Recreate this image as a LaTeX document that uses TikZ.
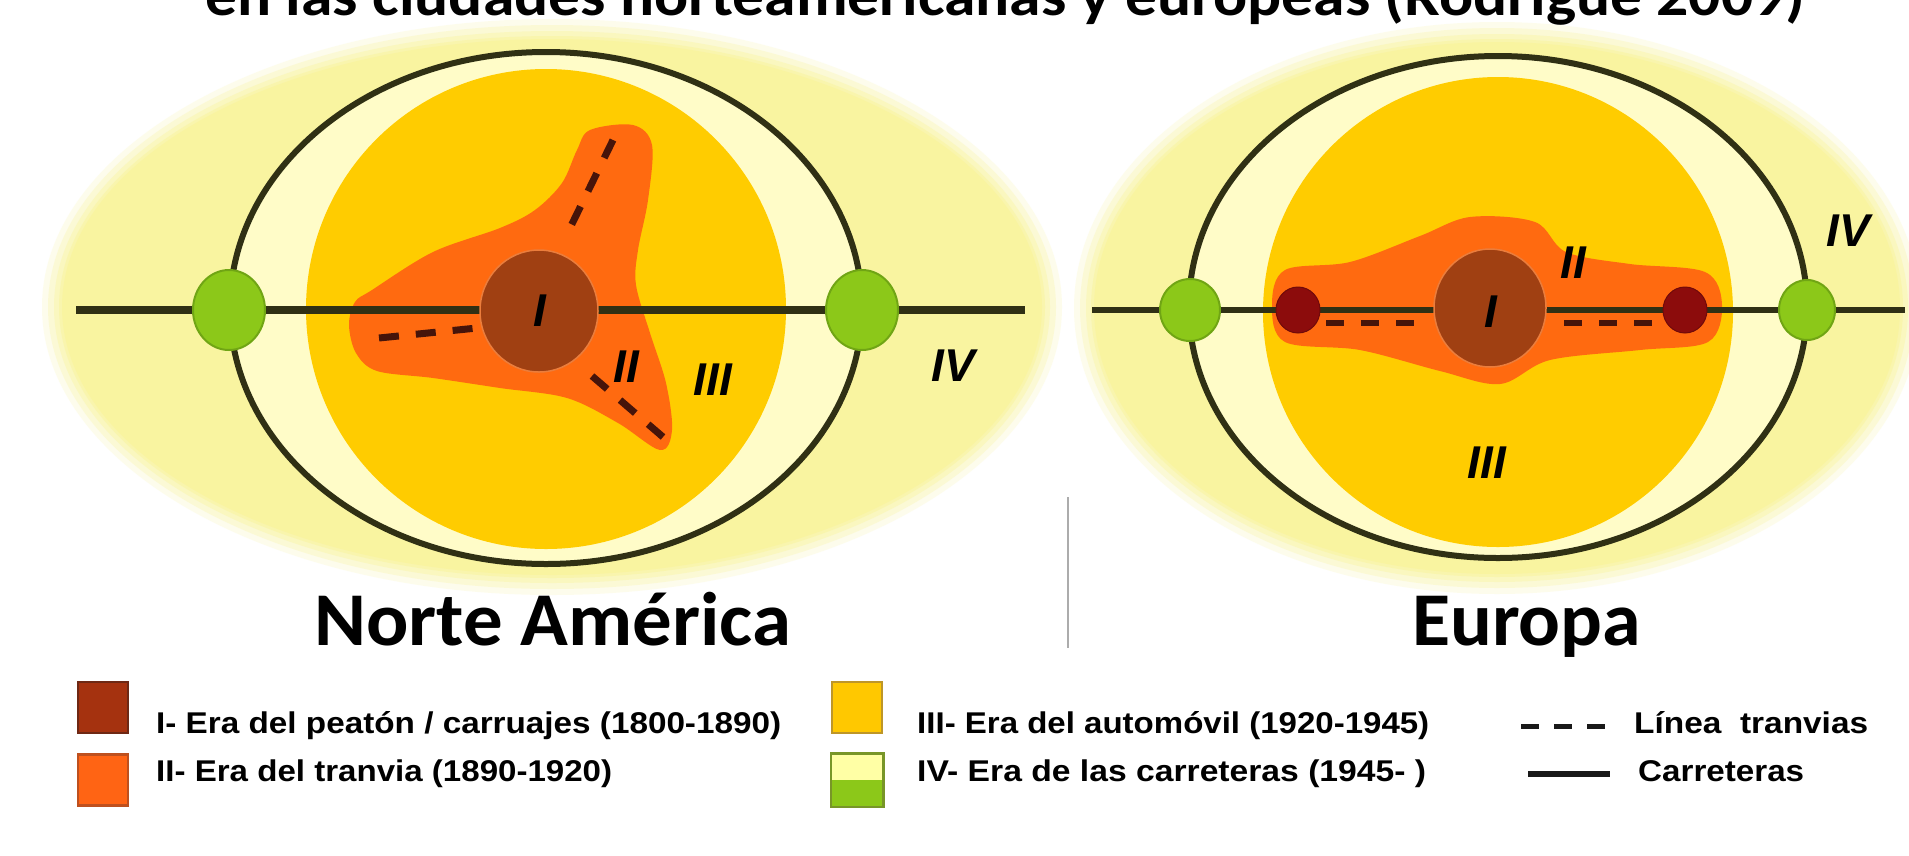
\documentclass[tikz,border=0pt]{standalone}
\usepackage{fontspec}
\usetikzlibrary{shapes.geometric}
\newfontfamily\titlefont{Carlito}
\newfontfamily\legfont{Liberation Sans}
\newcommand\fitx[2]{\resizebox{#1}{\height}{#2}}
\definecolor{zoneI}{RGB}{160,64,18}
\definecolor{zoneIedge}{RGB}{235,125,60}
\definecolor{zoneII}{RGB}{255,106,16}
\definecolor{zoneIII}{RGB}{255,204,0}
\definecolor{zoneIVout}{RGB}{249,244,160}
\definecolor{zoneIVin}{RGB}{255,252,200}
\definecolor{greenc}{RGB}{140,200,25}
\definecolor{greenedge}{RGB}{112,165,20}
\definecolor{roadc}{RGB}{48,48,20}
\definecolor{dashc}{RGB}{70,20,10}
\definecolor{dotred}{RGB}{140,12,12}
\definecolor{legI}{RGB}{165,50,15}
\definecolor{legIedge}{RGB}{110,40,20}
\definecolor{legII}{RGB}{255,100,20}
\definecolor{legIIedge}{RGB}{190,80,30}
\definecolor{legIII}{RGB}{255,200,0}
\definecolor{legIIIedge}{RGB}{190,150,40}
\definecolor{legIVtop}{RGB}{255,255,165}
\definecolor{legIVedge}{RGB}{120,150,40}
\begin{document}
\begin{tikzpicture}[x=1pt,y=-1pt,
  romano/.style={font=\legfont\bfseries\itshape\fontsize{46}{46}\selectfont, inner sep=0pt, text=black},
  bigname/.style={font=\titlefont\bfseries\fontsize{76}{76}\selectfont, inner sep=0pt, anchor=base west, text=black},
  legtext/.style={font=\legfont\bfseries\fontsize{30}{30}\selectfont, inner sep=0pt, anchor=base west, text=black},
  greenhub/.style={ellipse, fill=greenc, draw=greenedge, line width=2pt, inner sep=0pt},
  corehub/.style={ellipse, fill=zoneI, draw=zoneIedge, line width=1.5pt, inner sep=0pt},
  reddot/.style={ellipse, fill=dotred, draw=dotred!80!black, line width=1pt, inner sep=0pt},
  roadthick/.style={draw=roadc, line width=8pt},
  roadthin/.style={draw=roadc, line width=6pt},
  ringline/.style={draw=roadc, line width=6pt},
  tramdash/.style={draw=dashc, line width=7pt, dash pattern=on 20pt off 17pt},
  tramdashB/.style={draw=dashc, line width=6pt, dash pattern=on 18pt off 17pt},
  legsq/.style={rectangle, line width=2.5pt, inner sep=0pt, minimum width=50pt, minimum height=51pt}
]
\useasboundingbox (0,0) rectangle (1909,855);
\clip (0,0) rectangle (1909,855);
\fill[white] (0,0) rectangle (1909,855);

% ================= LEFT: Norte America =================
\foreach \d/\o in {20/0.2,14/0.3,8/0.4,3/0.55}{
  \fill[zoneIVout, opacity=\o] (552,307) ellipse [x radius={490pt+\d pt}, y radius={268pt+\d pt}];
}
\fill[zoneIVout] (552,307) ellipse [x radius=490pt, y radius=268pt];
\fill[zoneIVin] (546,308) ellipse [x radius=316pt, y radius=256pt];
\fill[zoneIII] (546,309) circle [radius=240pt];
\fill[zoneII] plot[smooth cycle, tension=0.55] coordinates {
  (590,130) (633,125) (652,145) (648,200) (638,250) (636,285) (650,333)
  (666,383) (672,430) (660,450) (618,423) (567,398) (500,388) (433,378)
  (377,371) (356,353) (349,325) (355,302) (372,290) (433,252) (500,228)
  (535,210) (562,183) (577,150)};
\coordinate (rL1) at (76,310);
\coordinate (rL2) at (1025,310);
\draw[roadthick] (rL1) -- (rL2);
\draw[ringline] (546,308) ellipse [x radius=316pt, y radius=256pt];
\coordinate (tT1) at (613,140); \coordinate (tT2) at (570,228);
\coordinate (tW1) at (379,338); \coordinate (tW2) at (477,328);
\coordinate (tS1) at (592,376); \coordinate (tS2) at (663,437);
\draw[tramdash] (tT1) -- (tT2);
\draw[tramdash] (tW1) -- (tW2);
\draw[tramdash] (tS1) -- (tS2);
\node[corehub, minimum width=118pt, minimum height=122pt] (coreL) at (539,311) {};
\node[greenhub, minimum width=72pt, minimum height=80pt] (gL1) at (229,310) {};
\node[greenhub, minimum width=72pt, minimum height=80pt] (gL2) at (862,310) {};
\node[romano] (lbIL) at (540,311) {I};
\node[romano] (lbIIL) at (626,367) {II};
\node[romano] (lbIIIL) at (713,380) {III};
\node[romano] (lbIVL) at (953,366) {IV};

% ================= RIGHT: Europa =================
\foreach \d/\o in {20/0.2,14/0.3,8/0.4,3/0.55}{
  \fill[zoneIVout, opacity=\o] (1497,308) ellipse [x radius={403pt+\d pt}, y radius={266pt+\d pt}];
}
\fill[zoneIVout] (1497,308) ellipse [x radius=403pt, y radius=266pt];
\fill[zoneIVin] (1498,307) ellipse [x radius=309pt, y radius=251pt];
\fill[zoneIII] (1498,312) circle [radius=235pt];
\fill[zoneII] plot[smooth cycle, tension=0.55] coordinates {
  (1272,305) (1285,270) (1350,262) (1420,236) (1470,217) (1535,222)
  (1566,252) (1630,264) (1705,272) (1722,305) (1708,342) (1640,350)
  (1550,360) (1500,384) (1440,371) (1360,350) (1285,342)};
\coordinate (rR1) at (1092,310);
\coordinate (rR2) at (1905,310);
\draw[roadthin] (rR1) -- (rR2);
\draw[ringline] (1498,307) ellipse [x radius=309pt, y radius=251pt];
\coordinate (tE1) at (1326,323); \coordinate (tE2) at (1414,323);
\coordinate (tE3) at (1564,323); \coordinate (tE4) at (1652,323);
\draw[tramdashB] (tE1) -- (tE2);
\draw[tramdashB] (tE3) -- (tE4);
\node[corehub, minimum width=112pt, minimum height=118pt] (coreR) at (1490,308) {};
\node[reddot, minimum width=44pt, minimum height=46pt] (dR1) at (1298,310) {};
\node[reddot, minimum width=44pt, minimum height=46pt] (dR2) at (1685,310) {};
\node[greenhub, minimum width=60pt, minimum height=62pt] (gR1) at (1190,310) {};
\node[greenhub, minimum width=56pt, minimum height=60pt] (gR2) at (1807,310) {};
\node[romano] (lbIR) at (1491,312) {I};
\node[romano] (lbIIR) at (1573,263) {II};
\node[romano] (lbIIIR) at (1487,463) {III};
\node[romano] (lbIVR) at (1848,231) {IV};

% ================= separator =================
\coordinate (sep1) at (1068,497);
\coordinate (sep2) at (1068,648);
\draw[gray!65, line width=2pt] (sep1) -- (sep2);

% ================= titles =================
\node[anchor=base west, inner sep=0pt, font=\titlefont\bfseries\fontsize{58}{58}\selectfont] (title) at (205,15)
  {\fitx{1600pt}{en las ciudades norteamericanas y europeas (Rodrigue 2009)}};
\node[bigname] (nameNA) at (314,645) {\fitx{477pt}{Norte América}};
\node[bigname] (nameEU) at (1412,645) {\fitx{229pt}{Europa}};

% ================= legend =================
\node[legsq, fill=legI, draw=legIedge] (sqI) at (103,707.5) {};
\node[legsq, fill=legII, draw=legIIedge] (sqII) at (103,780) {};
\node[legsq, fill=legIII, draw=legIIIedge] (sqIII) at (857,707.5) {};
\node[legsq, fill=legIVtop] (sqIV) at (857,780) {};
\fill[greenc] (sqIV.west) rectangle (sqIV.south east);
\draw[legIVedge, line width=2.5pt] (sqIV.south west) rectangle (sqIV.north east);

\node[legtext] (tI) at (156,733) {\fitx{625pt}{I- Era del peatón / carruajes (1800-1890)}};
\node[legtext] (tII) at (156,781) {\fitx{456pt}{II- Era del tranvia (1890-1920)}};
\node[legtext] (tIII) at (917,733) {\fitx{512pt}{III- Era del automóvil (1920-1945)}};
\node[legtext] (tIV) at (917,781) {\fitx{509pt}{IV- Era de las carreteras (1945- )}};
\node[legtext] (tTram) at (1634,733) {\fitx{234pt}{Línea\ \ tranvias}};
\node[legtext] (tRoad) at (1638,781) {\fitx{166pt}{Carreteras}};
\coordinate (lgD1) at (1521,726); \coordinate (lgD2) at (1606,726);
\draw[black!90, line width=5pt, dash pattern=on 18pt off 15pt] (lgD1) -- (lgD2);
\coordinate (lgS1) at (1528,774); \coordinate (lgS2) at (1610,774);
\draw[black!90, line width=6pt] (lgS1) -- (lgS2);
\end{tikzpicture}
\end{document}
